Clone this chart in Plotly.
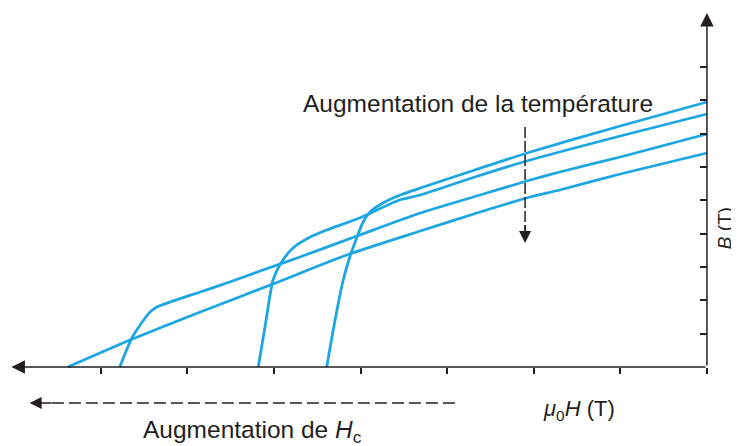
import plotly.graph_objects as go

# Demagnetisation curves.
# x = mu0*H and y = B, both in tick units (0 on the axes).
h_t1 = [-4.39, -4.30, -4.20, -4.12, -4.04, -3.97, -3.89, -3.78, -3.60, -3.31, -2.68, -2.04, -1.00, 0.0]
b_t1 = [0.0, 1.32, 2.61, 3.33, 3.90, 4.35, 4.65, 4.86, 5.10, 5.37, 5.91, 6.45, 7.23, 7.95]

h_t2 = [-5.18, -5.09, -5.01, -4.91, -4.78, -4.58, -4.39, -4.01, -3.55, -3.31, -2.68, -2.04, -1.00, 0.0]
b_t2 = [0.0, 1.41, 2.61, 3.15, 3.57, 3.90, 4.11, 4.47, 5.01, 5.16, 5.70, 6.21, 6.93, 7.59]

h_t3 = [-6.78, -6.71, -6.64, -6.52, -6.43, -6.35, -5.85, -5.51, -5.16, -4.70, -4.01, -3.31, -2.62, -2.04, -1.70, -1.00, 0.0]
b_t3 = [0.0, 0.45, 0.87, 1.35, 1.65, 1.80, 2.25, 2.55, 2.88, 3.30, 3.96, 4.62, 5.16, 5.61, 5.85, 6.30, 6.99]

h_t4 = [-7.38, -6.66, -5.85, -5.01, -4.16, -3.31, -2.62, -2.04, -1.70, -1.00, 0.0]
b_t4 = [0.0, 0.81, 1.65, 2.49, 3.36, 4.08, 4.65, 5.10, 5.31, 5.79, 6.42]

curves = [(h_t1, b_t1), (h_t2, b_t2), (h_t3, b_t3), (h_t4, b_t4)]

x_ticks = [-7, -6, -5, -4, -3, -2, -1, 0]
y_ticks = [1, 2, 3, 4, 5, 6, 7, 8, 9]

BLUE = "#1ca6e2"
INK = "#231f20"
FONT = "Liberation Sans"

# the page body keeps its 8px margin, so the figure is 8px smaller
X_RANGE = [-8.07, 0.37]
Y_RANGE = [-2.37, 10.77]
X_AXIS_POS = 2.37 / (10.77 + 2.37)
Y_AXIS_POS = 8.07 / (8.07 + 0.37)

fig = go.Figure()
for h, b in curves:
    fig.add_trace(go.Scatter(x=h, y=b, mode="lines",
                             line=dict(color=BLUE, width=2.8, shape="spline", smoothing=0.6),
                             hoverinfo="skip", showlegend=False))

# axis lines with arrow heads
fig.add_annotation(x=-8.03, y=0, ax=0, ay=0, xref="x", yref="y", axref="x", ayref="y",
                   text="", showarrow=True, arrowhead=2, arrowsize=1.8, arrowwidth=1.5,
                   arrowcolor=INK)
fig.add_annotation(x=0, y=10.62, ax=0, ay=0, xref="x", yref="y", axref="x", ayref="y",
                   text="", showarrow=True, arrowhead=2, arrowsize=1.8, arrowwidth=1.5,
                   arrowcolor=INK)

# dashed arrows
fig.add_shape(type="line", x0=-2.91, y0=-1.08, x1=-7.6, y1=-1.08,
              line=dict(color=INK, width=1.5, dash="12px,5px"))
fig.add_annotation(x=-7.82, y=-1.08, ax=-7.55, ay=-1.08, axref="x", ayref="y",
                   text="", showarrow=True, arrowhead=2, arrowsize=1.6, arrowwidth=1.5,
                   arrowcolor=INK)
fig.add_shape(type="line", x0=-2.10, y0=7.2, x1=-2.10, y1=4.1,
              line=dict(color=INK, width=1.5, dash="11px,3px"))
fig.add_annotation(x=-2.10, y=3.72, ax=-2.10, ay=4.3, axref="x", ayref="y",
                   text="", showarrow=True, arrowhead=2, arrowsize=1.6, arrowwidth=1.5,
                   arrowcolor=INK)

# texts
fig.add_annotation(x=-2.64, y=7.92, text="Augmentation de la température", showarrow=False,
                   font=dict(family=FONT, size=24.5, color=INK))
fig.add_annotation(x=-5.25, y=-1.93, text="Augmentation de <i>H</i><sub>c</sub>", showarrow=False,
                   font=dict(family=FONT, size=24.5, color=INK))
fig.add_annotation(x=-1.48, y=-1.29, text="<i>μ</i><sub>0</sub><i>H</i> (T)", showarrow=False,
                   font=dict(family=FONT, size=22, color=INK))
fig.add_annotation(x=0.2, y=4.17, text="<i>B</i> (T)", showarrow=False, textangle=-90,
                   font=dict(family=FONT, size=19, color=INK))

fig.update_layout(
    width=731, height=438,
    margin=dict(l=0, r=0, t=0, b=0),
    paper_bgcolor="white", plot_bgcolor="white",
    showlegend=False,
    xaxis=dict(range=X_RANGE, showgrid=False, zeroline=False, showline=False,
               showticklabels=False, ticks="outside", tickvals=x_ticks,
               ticklen=6, tickwidth=1.5, tickcolor=INK,
               anchor="free", position=X_AXIS_POS),
    yaxis=dict(range=Y_RANGE, showgrid=False, zeroline=False, showline=False,
               showticklabels=False, ticks="inside", tickvals=y_ticks, side="right",
               ticklen=7, tickwidth=1.5, tickcolor=INK,
               anchor="free", position=Y_AXIS_POS),
)

fig.write_html("out.html")
